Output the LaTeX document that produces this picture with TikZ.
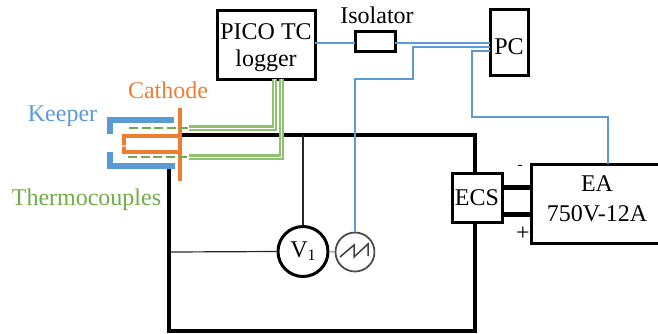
\documentclass[tikz,border=0pt]{standalone}
\usepackage{fontspec}
\setmainfont{Liberation Serif}
\definecolor{kblue}{HTML}{5B9BD5}
\definecolor{corange}{HTML}{ED7D31}
\definecolor{tgreen}{HTML}{70AD47}
\definecolor{lgreen}{HTML}{8FC26E}
\tikzset{
  txt/.style={font=\fontsize{24}{27}\selectfont, inner sep=0pt, align=center},
  box/.style={draw=black, line width=3pt, fill=white, txt, minimum width=#1, outer sep=0pt},
  sig/.style={draw=kblue, line width=1.2pt},
  power/.style={draw=black, line width=4pt},
  probe/.style={draw=black!85, line width=1.2pt},
  tc/.style={draw=lgreen, line width=2.4pt, double=white, double distance=0.6pt},
  tcdash/.style={draw=tgreen, line width=2.6pt, dash pattern=on 9pt off 3.5pt},
  keep/.style={draw=kblue, line width=5.5pt},
  cath/.style={draw=corange, line width=4pt}
}
\begin{document}
\begin{tikzpicture}[x=1pt,y=-1pt]
\useasboundingbox (0,0) rectangle (658,333);
% nodes
\node[box=98pt, minimum height=69pt] (pico) at (266,44.5) {};
\node[txt] (picolabel) at (266,48) {PICO TC\\logger};
\node[box=40pt, minimum height=20pt] (iso) at (375,41) {};
\node[txt] (isolabel) at (377,15) {Isolator};
\node[box=38pt, minimum height=66pt] (pc) at (509,42) {};
\node[txt] (pclabel) at (509,47) {PC};
\node[box=132pt, minimum height=79pt] (ea) at (597,203.5) {};
\node[txt] (ealabel) at (597,199) {EA\\[3pt]750V-12A};
\coordinate (nw) at (182,135);
\coordinate (ne) at (475,135);
\coordinate (se) at (475,331);
\coordinate (sw) at (169,331);
\coordinate (kbot) at (169,167);
% main loop
\draw[power, line join=miter] (kbot) -- (sw) -- (se) -- (ne) -- (nw);
\node[box=50pt, minimum height=49pt] (ecs) at (477,197.5) {ECS};
\draw[power, line width=5pt] (ecs.east |- 0,187) -- (ea.west |- 0,187);
\draw[power, line width=5pt] (ecs.east |- 0,214) -- (ea.west |- 0,214);
\node[txt, font=\fontsize{15}{15}\selectfont] (minus) at (520,167) {-};
\node[txt] (plus) at (523,234) {+};
% meters
\node[draw=black, line width=3pt, circle, minimum size=50pt, inner sep=0pt, fill=white, txt] (v1) at (303,251.5) {V\raisebox{-3pt}{\fontsize{16}{16}\selectfont 1}};
\coordinate (vtop) at (303,135);
\coordinate (vleft) at (170,252);
\draw[probe] (vtop) -- (v1.north);
\draw[probe] (vleft) -- (v1.west);
\begin{scope}
\clip (330,225) rectangle (375,280);
\node[draw=black!70, line width=1.8pt, circle, minimum size=39pt, inner sep=0pt] (saw) at (355,252) {};
\draw[black!75, line width=1.5pt, line join=miter] (340,257) -- (354,245) -- (354,257) -- (368,244) -- (368,256);
\end{scope}
\draw[black!35, line width=1.5pt] (v1.east) -- (saw.west);
% signal lines
\draw[sig] (pico.east |- 0,43) -- (iso.west |- 0,43);
\draw[sig] (iso.east |- 0,43) -- (pc.west |- 0,43);
\draw[sig] (pc.west |- 0,47) -- (413,47) -- (413,79) -- (saw.north |- 0,79) -- (saw.north);
\draw[sig] (pc.west |- 0,51) -- (472,51) -- (472,117) -- (608,117) -- (608,163.5);
% keeper
\draw[keep, line cap=butt, line join=miter] (110,134) -- (110,120) -- (174,120);
\draw[keep, line cap=butt, line join=miter] (110,152) -- (110,166) -- (175,166);
% thermocouples
\coordinate (tca) at (189,128);
\coordinate (tcb) at (189,157);
\draw[tc] (tca) -- (274.5,128) -- (pico.south -| 274.5,0);
\draw[tc] (tcb) -- (281.5,157) -- (pico.south -| 281.5,0);
% cathode
\draw[cath, line join=miter] (180,136) -- (124,136) -- (124,152) -- (180,152);
\draw[corange!45, line width=4pt] (124,144.5) -- (124,146.5);
\draw[cath, line width=3.6pt] (180,108) -- (180,181);
\draw[tcdash] (129,128) -- (tca);
\draw[tcdash] (128,157) -- (tcb);
% labels
\node[txt, text=corange] (cathode) at (168,90) {Cathode};
\node[txt, text=kblue] (keeper) at (62.5,116) {Keeper};
\node[txt, text=tgreen] (thermo) at (86.5,200) {Thermocouples};
\end{tikzpicture}
\end{document}
